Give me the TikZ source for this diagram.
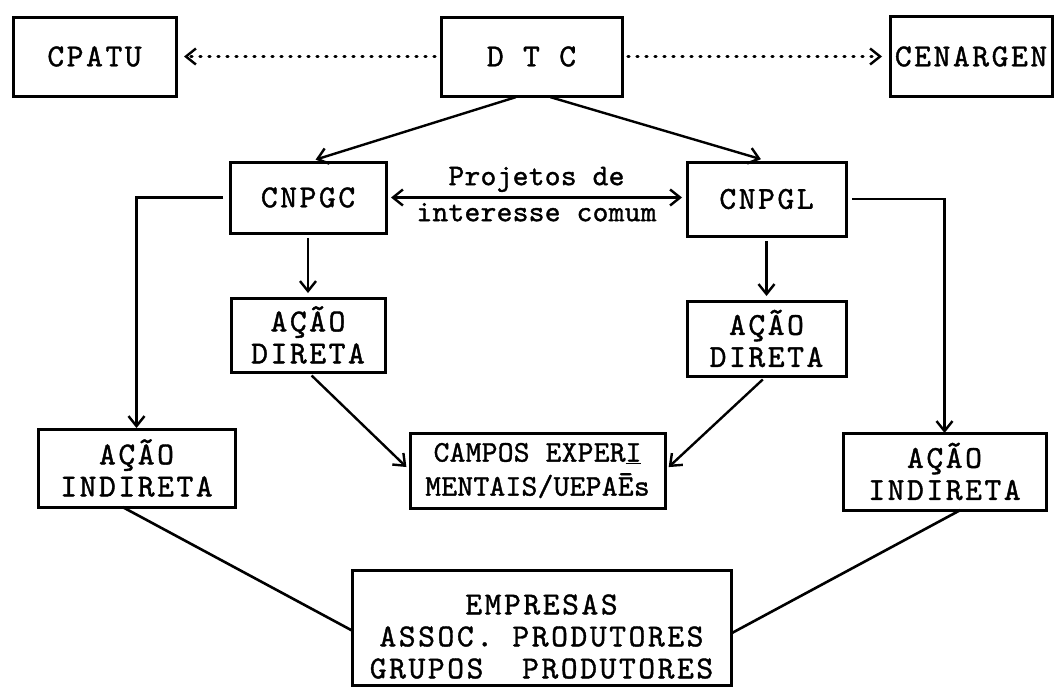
\documentclass[tikz,border=0pt]{standalone}
\usepackage{fontspec}
\newfontfamily\typewriter{lmmono10-regular.otf}[LetterSpace=8, FakeBold=1.2]
\newfontfamily\typewriterlc{lmmono10-regular.otf}[LetterSpace=1, FakeBold=1.2]
\usetikzlibrary{arrows.meta, positioning}

\begin{document}
\begin{tikzpicture}[
        x=1pt, y=-1pt,
        node distance=65pt and 55pt,
        block/.style={rectangle, draw, line width=3pt, inner sep=0pt, outer sep=0pt, align=center, font=\typewriter\fontsize{32}{32}\selectfont},
        narrowblock/.style={block, font=\typewriterlc\fontsize{30}{34}\selectfont},
        arrow/.style={line width=2.4pt, shorten >=5pt, shorten <=5pt, -{Straight Barb[length=10pt, width=16pt, line width=2.4pt]}},
        twoway/.style={arrow, {Straight Barb[length=10pt, width=16pt, line width=2.4pt]}-{Straight Barb[length=10pt, width=16pt, line width=2.4pt]}},
        dotarrow/.style={arrow, line width=3.4pt, line cap=round, dash pattern=on 1pt off 8pt, shorten >=8pt, shorten <=6pt},
        link/.style={line width=2.6pt}
    ]
    \useasboundingbox (0,0) rectangle (1054,686);

    % Top row
    \node [block, minimum width=181pt, minimum height=79pt] (dtc) at (531.5,56.5) {D T C};
    \node [block, minimum width=163pt, minimum height=79pt, left=265pt of dtc] (cpatu) {CPATU};
    \node [block, minimum width=162pt, minimum height=80pt, right=268pt of dtc] (cenargen) {CENARGEN};

    % Research centres
    \node [block, minimum width=156pt, minimum height=71pt, below left=66pt and 55pt of dtc] (cnpgc) {CNPGC};
    \node [block, minimum width=159pt, minimum height=74pt, below right=66pt and 65pt of dtc] (cnpgl) {CNPGL};

    % Direct action
    \node [block, minimum width=154pt, minimum height=74pt, below=65pt of cnpgc] (diretaL) {AÇÃO\\DIRETA};
    \node [block, minimum width=159pt, minimum height=75pt, below=65pt of cnpgl] (diretaR) {AÇÃO\\DIRETA};

    % Indirect action
    \node [block, minimum width=197pt, minimum height=78pt, below left=57pt and -4pt of diretaL] (indiretaL) {AÇÃO\\INDIRETA};
    \node [block, minimum width=203pt, minimum height=77pt, below right=57pt and -3pt of diretaR] (indiretaR) {AÇÃO\\INDIRETA};

    % Experimental fields
    \node [narrowblock, minimum width=255pt, minimum height=75pt, below right=61pt and 25pt of diretaL] (campos) {CAMPOS EXPER\underline{I}\\MENTAIS/UEPAĒs};

    % Producers
    \node [block, minimum width=379pt, minimum height=115pt, below=62pt of campos, xshift=4pt] (empresas) {\rule{0pt}{38pt}EMPRESAS\\ASSOC. PRODUTORES\\GRUPOS\ \ PRODUTORES};

    % Connecting lines
    \draw [dotarrow] (dtc.west) -- (cpatu.east);
    \draw [dotarrow] (dtc.east) -- (cenargen.west);
    \draw [arrow, shorten >=8pt, shorten <=4pt] ([xshift=-12pt]dtc.south) -- (cnpgc.north);
    \draw [arrow, shorten >=10pt, shorten <=4pt] ([xshift=15pt]dtc.south) -- ([xshift=4pt]cnpgl.north);

    \draw [twoway] (cnpgc.east) -- (cnpgc.east -| cnpgl.west)
        node [midway, above=1pt, font=\typewriterlc\fontsize{30}{30}\selectfont] (proj1) {Projetos de}
        node [midway, below=1pt, font=\typewriterlc\fontsize{30}{30}\selectfont] (proj2) {interesse comum};

    \draw [arrow, shorten <=7pt, shorten >=1pt] (cnpgc.west) -| (indiretaL.north);
    \draw [arrow, shorten <=6pt, shorten >=0pt] (cnpgl.east) -| (indiretaR.north);
    \draw [arrow] (cnpgc) -- (diretaL);
    \draw [arrow] (cnpgl) -- (diretaR);

    \draw [arrow] (diretaL.south) -- (campos.west);
    \draw [arrow] (diretaR.south) -- (campos.east);

    \draw [link] ([xshift=-14pt]indiretaL.south) -- ([yshift=-3pt]empresas.west);
    \draw [link] ([xshift=16pt]indiretaR.south) -- ([yshift=-6pt]empresas.east);

\end{tikzpicture}
\end{document}
